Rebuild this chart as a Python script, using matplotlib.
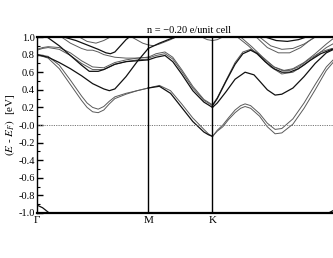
import numpy as np
import matplotlib
matplotlib.use('Agg')
import matplotlib.pyplot as plt

plt.rcParams['font.family'] = ['Liberation Serif', 'DejaVu Serif']
plt.rcParams['mathtext.fontset'] = 'stix'
plt.rcParams['axes.unicode_minus'] = False

# high symmetry points along the path (last Gamma falls outside the crop)
k_ticks = [0.0, 1.0, 1.577, 2.732]
k_labels = ['Γ', 'M', 'K', '']
title = 'n = \u22120.20 e/unit cell'

# ---- Gamma - M ----
s1_low1_k = [0, 0.1, 0.2, 0.3, 0.4, 0.45, 0.5, 0.55, 0.6, 0.65, 0.7, 0.8, 0.9, 1.0]
s1_low1_e = [0.80, 0.76, 0.64, 0.46, 0.28, 0.20, 0.15, 0.14, 0.17, 0.24, 0.30, 0.35, 0.39, 0.42]
s1_low2_e = [0.80, 0.78, 0.68, 0.51, 0.33, 0.25, 0.20, 0.18, 0.21, 0.27, 0.32, 0.36, 0.39, 0.42]

s1_b1_k = [0, 0.1, 0.2, 0.3, 0.4, 0.5, 0.6, 0.65, 0.7, 0.8, 0.9, 1.0]
s1_b1_e = [0.80, 0.77, 0.71, 0.64, 0.56, 0.47, 0.41, 0.39, 0.41, 0.55, 0.72, 0.87]

s1_g1_k = [0, 0.05, 0.1, 0.2, 0.3, 0.4, 0.5, 0.6, 0.7, 0.8, 0.9, 1.0]
s1_g1a_e = [0.85, 0.87, 0.88, 0.86, 0.79, 0.70, 0.63, 0.63, 0.69, 0.72, 0.74, 0.75]
s1_g1b_e = [0.86, 0.88, 0.89, 0.88, 0.82, 0.73, 0.66, 0.65, 0.71, 0.74, 0.76, 0.77]

s1_b2_k = [0.09, 0.2, 0.3, 0.4, 0.47, 0.55, 0.6, 0.7, 0.8, 0.9, 1.0]
s1_b2_e = [1.0, 0.90, 0.79, 0.68, 0.61, 0.61, 0.63, 0.69, 0.72, 0.73, 0.74]

s1_g2_k = [0.22, 0.3, 0.4, 0.45, 0.5, 0.55, 0.6, 0.7, 0.8, 0.9, 1.0]
s1_g2_e = [1.0, 0.93, 0.87, 0.85, 0.85, 0.83, 0.80, 0.77, 0.76, 0.76, 0.77]

s1_b3_k = [0.24, 0.35, 0.45, 0.55, 0.62, 0.66, 0.7, 0.75, 0.8, 0.83]
s1_b3_e = [1.0, 0.96, 0.91, 0.86, 0.82, 0.81, 0.83, 0.90, 0.97, 1.0]

s1_g3_k = [0.38, 0.45, 0.53, 0.6, 0.66]
s1_g3_e = [1.0, 0.95, 0.93, 0.96, 1.0]

s1_g4_k = [0.85, 0.95, 1.0, 1.05, 1.1, 1.2, 1.25]
s1_g4_e = [1.0, 0.93, 0.91, 0.90, 0.92, 0.97, 1.0]

s1_deep_k = [0, 0.05, 0.11]
s1_deep_e = [-0.91, -0.94, -1.0]

# ---- M - K ----
s2_b1_k = [1.0, 1.1, 1.2, 1.25]
s2_b1_e = [0.87, 0.93, 0.98, 1.0]

s2_low_k = [1.0, 1.1, 1.2, 1.3, 1.4, 1.5, 1.54, 1.577]
s2_low1_e = [0.42, 0.44, 0.36, 0.20, 0.04, -0.08, -0.11, -0.13]
s2_low2_e = [0.42, 0.45, 0.39, 0.24, 0.08, -0.05, -0.10, -0.13]

s2_c_k = [1.0, 1.07, 1.15, 1.22, 1.3, 1.4, 1.5, 1.577]
s2_c1_e = [0.74, 0.77, 0.79, 0.72, 0.58, 0.39, 0.26, 0.20]
s2_c2_e = [0.76, 0.79, 0.81, 0.75, 0.61, 0.42, 0.28, 0.22]
s2_c3_e = [0.77, 0.81, 0.83, 0.77, 0.63, 0.44, 0.29, 0.23]

s2_arc_k = [1.48, 1.53, 1.577, 1.62, 1.67]
s2_arc_e = [1.0, 0.97, 0.96, 0.97, 1.0]

# ---- K - Gamma ----
s3_low_k = [1.577, 1.62, 1.67, 1.72, 1.78, 1.83, 1.87, 1.92, 2.0, 2.07, 2.14, 2.2, 2.3, 2.4, 2.5, 2.6, 2.7, 2.732]
s3_low1_e = [-0.13, -0.07, -0.02, 0.06, 0.14, 0.19, 0.21, 0.19, 0.10, -0.02, -0.10, -0.09, 0.01, 0.19, 0.40, 0.62, 0.77, 0.80]
s3_low2_e = [-0.13, -0.06, 0.0, 0.08, 0.17, 0.22, 0.24, 0.22, 0.13, 0.02, -0.05, -0.04, 0.07, 0.25, 0.46, 0.66, 0.79, 0.81]

s3_d_k = [1.577, 1.62, 1.7, 1.78, 1.87, 1.95, 2.0, 2.07, 2.14, 2.2, 2.3, 2.4, 2.5, 2.6, 2.7, 2.732]
s3_d_e = [0.20, 0.25, 0.38, 0.52, 0.60, 0.57, 0.50, 0.40, 0.34, 0.35, 0.42, 0.55, 0.70, 0.82, 0.88, 0.88]

s3_e_k = [1.577, 1.62, 1.7, 1.78, 1.85, 1.92, 1.98, 2.05, 2.13, 2.2, 2.27, 2.35, 2.45, 2.55, 2.65, 2.732]
s3_e1_e = [0.22, 0.30, 0.50, 0.69, 0.81, 0.85, 0.81, 0.72, 0.64, 0.60, 0.60, 0.64, 0.73, 0.81, 0.86, 0.86]
s3_e2_e = [0.23, 0.31, 0.51, 0.71, 0.83, 0.86, 0.82, 0.74, 0.66, 0.62, 0.62, 0.66, 0.75, 0.83, 0.87, 0.87]

s3_f1_k = [1.8, 1.9, 2.0, 2.1, 2.2, 2.3, 2.4, 2.5, 2.6, 2.7, 2.732]
s3_f1_e = [1.0, 0.90, 0.78, 0.66, 0.58, 0.60, 0.68, 0.78, 0.88, 0.95, 0.96]
s3_f2_k = [1.83, 1.93, 2.03, 2.13, 2.22, 2.3, 2.4, 2.5, 2.6, 2.68]
s3_f2_e = [1.0, 0.89, 0.77, 0.66, 0.62, 0.64, 0.71, 0.81, 0.92, 1.0]

s3_u1_k = [2.05, 2.15, 2.25, 2.35, 2.42]
s3_u1_e = [1.0, 0.96, 0.95, 0.97, 1.0]
s3_u2_k = [2.0, 2.1, 2.2, 2.3, 2.4, 2.5]
s3_u2_e = [1.0, 0.90, 0.86, 0.87, 0.92, 1.0]
s3_u3_k = [1.97, 2.07, 2.17, 2.27, 2.37, 2.45, 2.5]
s3_u3_e = [1.0, 0.88, 0.82, 0.82, 0.88, 0.96, 1.0]

s3_deep_k = [2.62, 2.68, 2.732]
s3_deep_e = [-1.0, -0.96, -0.91]

black = [(s1_b1_k, s1_b1_e), (s1_b2_k, s1_b2_e), (s1_b3_k, s1_b3_e),
         (s1_deep_k, s1_deep_e), (s2_b1_k, s2_b1_e), (s2_c_k, s2_c1_e),
         (s2_low_k, s2_low1_e), (s3_d_k, s3_d_e), (s3_e_k, s3_e1_e),
         (s3_u1_k, s3_u1_e), (s3_deep_k, s3_deep_e)]
gray = [(s1_low1_k, s1_low1_e), (s1_low1_k, s1_low2_e), (s1_g1_k, s1_g1a_e),
        (s1_g1_k, s1_g1b_e), (s1_g2_k, s1_g2_e), (s1_g3_k, s1_g3_e),
        (s1_g4_k, s1_g4_e), (s2_low_k, s2_low2_e), (s2_c_k, s2_c2_e),
        (s2_c_k, s2_c3_e), (s2_arc_k, s2_arc_e), (s3_low_k, s3_low1_e),
        (s3_low_k, s3_low2_e), (s3_e_k, s3_e2_e), (s3_f1_k, s3_f1_e),
        (s3_f2_k, s3_f2_e), (s3_u2_k, s3_u2_e), (s3_u3_k, s3_u3_e)]

fig = plt.figure(figsize=(3.33, 2.58), dpi=100)
# axes run past the right edge of the picture, as in the original crop
ax = fig.add_axes([37 / 333, 45 / 258, 304 / 333, 176 / 258])

for k, e in gray:
    ax.plot(k, e, color='#5a5a5a', lw=0.7)
for k, e in black:
    ax.plot(k, e, color='#111111', lw=0.9)

ax.axhline(0, color='#777777', lw=0.7, ls=(0, (1.2, 1.2)))
for kk in k_ticks[1:3]:
    ax.axvline(kk, color='black', lw=1.0)

ax.set_xlim(0, 2.732)
ax.set_ylim(-1, 1)
ax.set_xticks(k_ticks)
ax.set_xticklabels(k_labels, fontsize=8)
ax.tick_params(axis='x', length=0, pad=2)
ax.set_yticks(np.arange(-1.0, 1.01, 0.2))
ax.set_yticks(np.arange(-0.9, 1.0, 0.2), minor=True)
ax.set_yticklabels(['%.1f' % v for v in np.arange(-1.0, 1.01, 0.2)], fontsize=7.5)
ax.tick_params(axis='y', which='major', direction='in', length=4, width=1, pad=1.5)
ax.tick_params(axis='y', which='minor', direction='in', length=2, width=0.8)
for side in ['top', 'bottom']:
    ax.spines[side].set_linewidth(1.6)
ax.spines['left'].set_linewidth(1.0)

ax.set_ylabel(r'$(E$ - $E_F)$  [eV]', fontsize=8, labelpad=1)
ax.set_title(title, fontsize=7.5, pad=3)

fig.savefig('out.png', dpi=100)
